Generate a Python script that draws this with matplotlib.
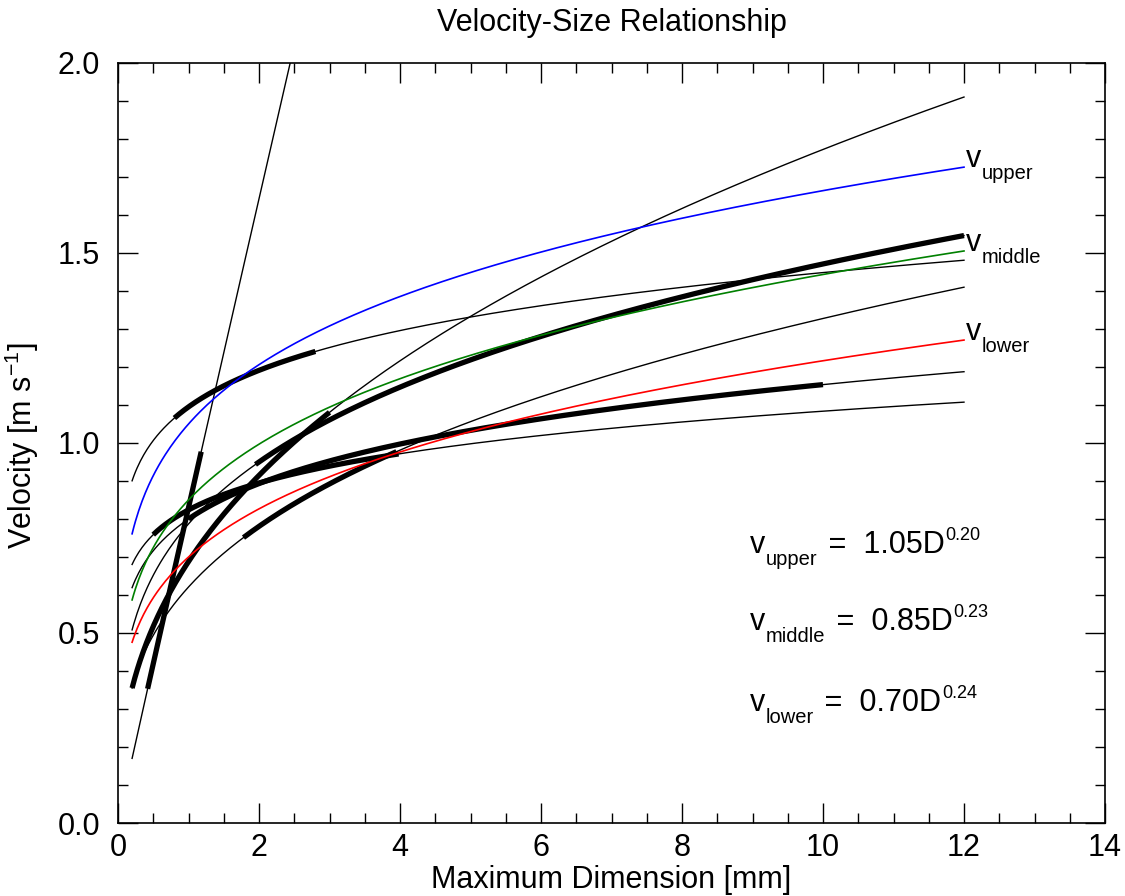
import numpy as np
import matplotlib as mpl
import matplotlib.pyplot as plt
from matplotlib.ticker import MultipleLocator, FormatStrFormatter

mpl.rcParams['font.family'] = ['Liberation Sans', 'DejaVu Sans']
mpl.rcParams['mathtext.fontset'] = 'custom'
mpl.rcParams['mathtext.rm'] = 'Liberation Sans'

# fitted relations v = a * D**b (coloured curves)
fit_names = ['upper', 'middle', 'lower']
fit_a = [1.05, 0.85, 0.70]
fit_b = [0.20, 0.23, 0.24]
fit_colors = ['#0000ff', '#008000', '#ff0000']

# individual relations (black curves), with the size range drawn thick
blk_a = [0.83, 1.095, 0.688, 0.787, 0.621, 0.80, 0.824]
blk_b = [0.985, 0.1215, 0.411, 0.2717, 0.33, 0.159, 0.119]
blk_lo = [0.42, 0.8, 0.2, 1.95, 1.78, 1.0, 0.5]
blk_hi = [1.18, 2.8, 3.0, 12.0, 3.95, 10.0, 3.98]

d_min, d_max = 0.2, 12.0

fig = plt.figure(figsize=(11.25, 8.96), dpi=100)
ax = fig.add_axes([118 / 1125, 1 - 823 / 896, 987 / 1125, 760 / 896])

D = np.linspace(d_min, d_max, 500)
for a, b, lo, hi in zip(blk_a, blk_b, blk_lo, blk_hi):
    ax.plot(D, a * D ** b, color='k', lw=1.0)
    seg = np.linspace(lo, hi, 300)
    ax.plot(seg, a * seg ** b, color='k', lw=3.8, solid_capstyle='butt')

for a, b, c in zip(fit_a, fit_b, fit_colors):
    ax.plot(D, a * D ** b, color=c, lw=1.2)

ax.set_xlim(0, 14)
ax.set_ylim(0, 2.0)

ax.xaxis.set_major_locator(MultipleLocator(2))
ax.xaxis.set_minor_locator(MultipleLocator(0.5))
ax.yaxis.set_major_locator(MultipleLocator(0.5))
ax.yaxis.set_minor_locator(MultipleLocator(0.1))
ax.yaxis.set_major_formatter(FormatStrFormatter('%.1f'))
ax.tick_params(which='both', direction='in', top=True, right=True, labelsize=22)
ax.tick_params(which='major', length=14.4, width=1.0)
ax.tick_params(which='minor', length=7.2, width=1.0)
ax.tick_params(axis='x', which='major', pad=7)
ax.tick_params(axis='y', which='major', pad=13)
for s in ax.spines.values():
    s.set_linewidth(1.2)

ax.set_xlabel('Maximum Dimension [mm]', fontsize=22)
ax.xaxis.set_label_coords(0.5, -0.055)
ax.set_ylabel(r'Velocity [m s$^{\mathregular{-1}}$]', fontsize=22)
ax.yaxis.set_label_coords(-0.078, 0.496)
fig.text(611.5 / 1125, 1 - 23 / 896, 'Velocity-Size Relationship',
         ha='center', va='center', fontsize=22)


def label_v(x, y, sub, rest=None, sup=None):
    t1 = ax.text(x, y, 'v', fontsize=22, ha='left', va='baseline')
    t2 = ax.annotate(sub, xy=(1, 0), xycoords=t1, xytext=(0.5, -6.4),
                     textcoords='offset points', fontsize=14.5,
                     ha='left', va='bottom')
    if rest is None:
        return
    t3 = ax.annotate(rest, xy=(1, 0), xycoords=(t2, t1), xytext=(1.5, 0),
                     textcoords='offset points', fontsize=22,
                     ha='left', va='bottom')
    ax.annotate(sup, xy=(1, 0), xycoords=(t3, t1), xytext=(0.5, 11.3),
                textcoords='offset points', fontsize=13,
                ha='left', va='bottom')


# labels at the ends of the coloured curves
for name, a, b in zip(fit_names, fit_a, fit_b):
    label_v(d_max + 0.03, a * d_max ** b, name)

# equations
eq_y = [0.7105, 0.508, 0.2955]
for name, a, b, y in zip(fit_names, fit_a, fit_b, eq_y):
    label_v(8.965, y, name, ' =  %.2fD' % a, '%.2f' % b)

fig.savefig('out.png', dpi=100)
